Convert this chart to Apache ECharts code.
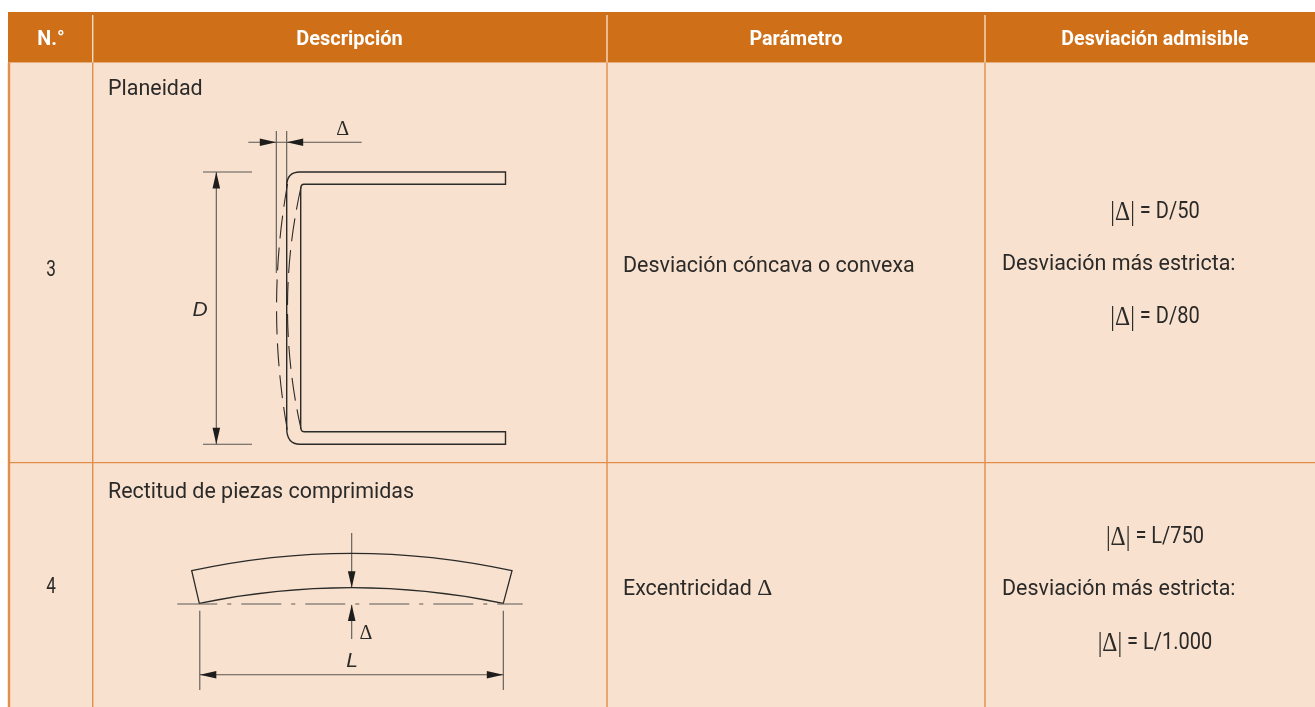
<!DOCTYPE html>
<html><head><meta charset="utf-8">
<style>html,body{margin:0;padding:0;background:#fff}#c{width:1315px;height:707px}</style>
<script src="https://cdn.jsdelivr.net/npm/echarts@6/dist/echarts.min.js"></script>
</head><body><div id="c"></div>
<script>
// ---- table content
const headers = ['N.°', 'Descripción', 'Parámetro', 'Desviación admisible'];
const rowNumbers = ['3', '4'];
const descriptions = ['Planeidad', 'Rectitud de piezas comprimidas'];
const parameters = ['Desviación cóncava o convexa', 'Excentricidad {d|Δ}'];
const strictLabel = 'Desviación más estricta:';
const deviations = ['{d||Δ|} = D/50', '{d||Δ|} = L/750'];
const strictDeviations = ['{d||Δ|} = D/80', '{d||Δ|} = L/1.000'];
// ---- table rules, in axis units
const columnEdges = [9, 92.7, 607, 985, 1315];
const rowEdges = [12, 62.5, 462.7, 707];
// ---- drawing 1: channel section
const channelOutline = [['M',505.5,172],['L',300,172],['Q',286.7,172,286.7,186],['L',286.7,428],['Q',286.7,444.3,300,444.3],['L',505.5,444.3],['L',505.5,431.7],['L',304,431.7],['Q',300.7,431.7,300.7,427],['L',300.7,189],['Q',300.7,184.3,304,184.3],['L',505.5,184.3],['Z']];
const dashedBows = [[['M',287.5,184],['Q',265.6,308,287.5,431]], [['M',301,187],['Q',274,308,301,429]]];
const thinLines1 = [[276.3,131,276.3,273],[286.7,131,286.7,186],[248.3,142.3,361.7,142.3],[203,172,252,172],[203,444.3,252,444.3],[216.3,172,216.3,444.3]];
const arrows1 = [[276.3,142.3,1,0],[286.7,142.3,-1,0],[216.3,172,0,-1],[216.3,444.3,0,1]];
// ---- drawing 2: bowed member
const beamOutline = [['M',191.7,570.7],['Q',351.7,536,512,570.7],['L',503.3,603.3],['Q',351.7,572,199.3,603.3],['Z']];
const centerLine = [177.3,604,522.7,604];
const thinLines2 = [[351.7,533,351.7,588],[351.7,605,351.7,639],[199.8,610.7,199.8,690],[503.3,610.7,503.3,690],[199.8,674.7,503.3,674.7]];
const arrows2 = [[351.7,587.7,0,1],[351.7,604.5,0,-1],[199.8,674.7,-1,0],[503.3,674.7,1,0]];
// ---- diagram labels [text, x, y]
const symbolLabels = [['Δ',342.7,130],['Δ',366,634]];
const italicLabels = [['D',200,310],['L',352,661]];

const HEADER='#CF6F17', BODY='#F8E2CF', RULE='#E28D48', INK='#2B2A29', THIN='#5A5652';
const FONT='Roboto';

function textEl(api, t, x, y, o){
  const p = api.coord([x,y]);
  const sx = o.sx||1;
  return {type:'text', x:p[0], y:p[1], scaleX:sx, originX:0, originY:0, silent:true,
    style:{text:t, fill:o.fill||INK, font:o.font, align:o.align||'left', verticalAlign:'middle',
      rich:{d:{font:o.dfont||'24px "Liberation Serif"', fill:o.fill||INK, verticalAlign:'middle'}}}};
}
function toPath(api, cmds){
  return cmds.map(c=>{
    let s=c[0];
    for(let i=1;i<c.length;i+=2){const p=api.coord([c[i],c[i+1]]); s+=' '+p[0]+' '+p[1];}
    return s;
  }).join(' ');
}
function lineEl(api,l,stroke,w,dash){
  const a=api.coord([l[0],l[1]]), b=api.coord([l[2],l[3]]);
  return {type:'line',shape:{x1:a[0],y1:a[1],x2:b[0],y2:b[1]},style:{stroke:stroke,lineWidth:w,lineDash:dash||null,fill:null}};
}
function pathEl(api,cmds,stroke,w,dash){
  return {type:'path',shape:{pathData:toPath(api,cmds)},style:{stroke:stroke,lineWidth:w,lineDash:dash||null,fill:null}};
}
function arrowEl(api,a){
  const len=16.5, hw=3.8, t=api.coord([a[0],a[1]]), dx=a[2], dy=a[3];
  const bx=t[0]-dx*len, by=t[1]-dy*len;
  return {type:'polygon',shape:{points:[t,[bx-dy*hw,by-dx*hw],[bx+dy*hw,by+dx*hw]]},style:{fill:'#1E1D1C'}};
}
function renderTable(params, api){
  const kids=[];
  const X=columnEdges, Y=rowEdges;
  const rect=(x0,y0,x1,y1,fill)=>{const a=api.coord([x0,y0]),b=api.coord([x1,y1]);
    return {type:'rect',shape:{x:a[0],y:a[1],width:b[0]-a[0],height:b[1]-a[1]},style:{fill:fill}};};
  kids.push(rect(X[0],Y[1],X[4],Y[3],BODY));
  kids.push(rect(X[0]-1,Y[0],X[4],Y[1],HEADER));
  [1,2,3].forEach(i=>{
    kids.push(lineEl(api,[X[i],Y[0]+3,X[i],Y[1]],'#F6DCC4',1.4));
    kids.push(lineEl(api,[X[i],Y[1],X[i],Y[3]],RULE,1.4));
  });
  kids.push(lineEl(api,[X[0],Y[1],X[0],Y[3]],RULE,2.4));
  kids.push(lineEl(api,[X[0],Y[2],X[4],Y[2]],RULE,1.2));
  return {type:'group',children:kids};
}
function renderDrawings(params, api){
  const kids=[];
  thinLines1.concat(thinLines2).forEach(l=>kids.push(lineEl(api,l,THIN,1.1)));
  kids.push(pathEl(api,channelOutline,INK,1.4));
  dashedBows.forEach(b=>kids.push(pathEl(api,b,INK,1.1,[23,9])));
  kids.push(pathEl(api,beamOutline,INK,1.3));
  kids.push(lineEl(api,centerLine,THIN,1.1,[40,10,4,10]));
  arrows1.concat(arrows2).forEach(a=>kids.push(arrowEl(api,a)));
  symbolLabels.forEach(l=>kids.push(textEl(api,l[0],l[1],l[2],{font:'20px "Liberation Serif"',align:'center'})));
  italicLabels.forEach(l=>kids.push(textEl(api,l[0],l[1],l[2],{font:'italic 21px "Liberation Sans"',align:'center'})));
  return {type:'group',children:kids};
}
function renderText(params, api){
  const kids=[];
  const hx=[51,349.5,796,1155], hs=[0.94,0.95,0.94,0.935];
  headers.forEach((h,i)=>kids.push(textEl(api,h,hx[i],39.5,{font:'bold 21px '+FONT,fill:'#fff',align:'center',sx:hs[i]})));
  const body='22px '+FONT, sx=0.975;
  const rowsY=[[271,89,266,212.5,264,317.5],[588,492,589,537.5,589,643.5]];
  rowNumbers.forEach((n,i)=>{
    const r=rowsY[i];
    kids.push(textEl(api,n,51,r[0],{font:'21.5px '+FONT,align:'center',sx:0.8}));
    kids.push(textEl(api,descriptions[i],108,r[1],{font:body,sx:sx}));
    kids.push(textEl(api,parameters[i],623,r[2],{font:body,sx:sx}));
    kids.push(textEl(api,deviations[i],1155,r[3],{font:'23px '+FONT,dfont:'27px "Liberation Serif"',align:'center',sx:0.87}));
    kids.push(textEl(api,strictLabel,1002,r[4],{font:body,sx:sx}));
    kids.push(textEl(api,strictDeviations[i],1155,r[5],{font:'23px '+FONT,dfont:'27px "Liberation Serif"',align:'center',sx:0.87}));
  });
  return {type:'group',children:kids};
}
const chart=echarts.init(document.getElementById('c'),null,{renderer:'canvas'});
const layer=(fn,z)=>({type:'custom',coordinateSystem:'cartesian2d',data:[[0,0]],renderItem:fn,clip:false,silent:true,z:z,encode:{x:0,y:1},animation:false});
chart.setOption({
  animation:false,
  tooltip:{show:false},
  grid:{left:0,right:0,top:0,bottom:0},
  xAxis:{type:'value',min:0,max:1315,show:false},
  yAxis:{type:'value',min:0,max:707,inverse:true,show:false},
  series:[layer(renderTable,1),layer(renderDrawings,2),layer(renderText,3)]
});
</script></body></html>
